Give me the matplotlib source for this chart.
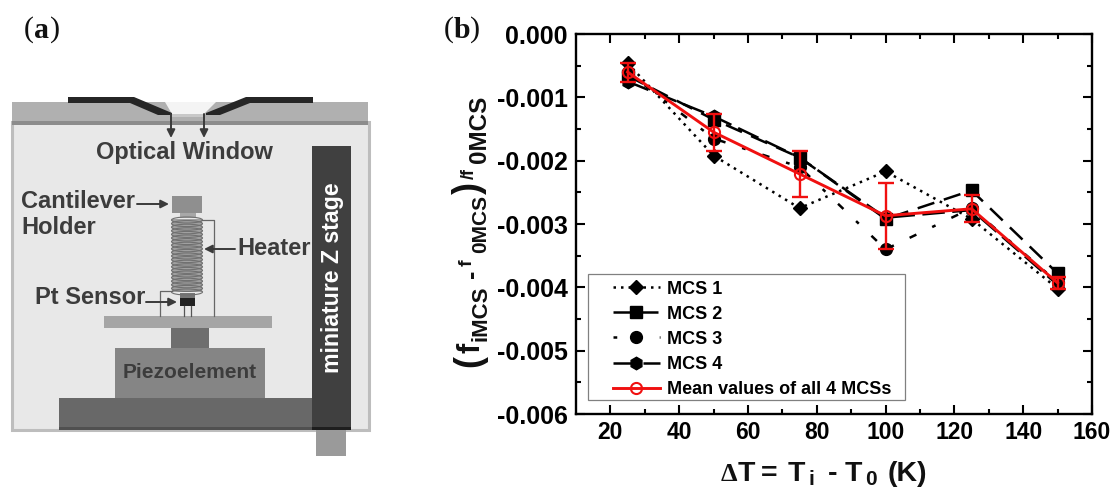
import numpy as np
import matplotlib
matplotlib.use('Agg')
import matplotlib.pyplot as plt
from matplotlib.patches import Rectangle, Polygon, Ellipse

plt.rcParams['font.family'] = ['Liberation Sans', 'DejaVu Sans']
plt.rcParams['font.weight'] = 'bold'

# values
delta_t = [25, 50, 75, 100, 125, 150]
mcs1 = [-0.00046, -0.00192, -0.00275, -0.00217, -0.00292, -0.00402]
mcs2 = [-0.00066, -0.00135, -0.00195, -0.00292, -0.00247, -0.00378]
mcs3 = [-0.00060, -0.00165, -0.00210, -0.00340, -0.00275, -0.00392]
mcs4 = [-0.00075, -0.00130, -0.00195, -0.00290, -0.00278, -0.00396]
mean_vals = [-0.00060, -0.00155, -0.00221, -0.00287, -0.00276, -0.00393]
mean_err = [0.00015, 0.00029, 0.00037, 0.00052, 0.00021, 0.00010]
labels = ['MCS 1', 'MCS 2', 'MCS 3', 'MCS 4', 'Mean values of all 4 MCSs']
x_ticks = [20, 40, 60, 80, 100, 120, 140, 160]
y_ticks = [0, -0.001, -0.002, -0.003, -0.004, -0.005, -0.006]

W, H = 1116, 491
fig = plt.figure(figsize=(W / 100, H / 100), dpi=100)

# panel (a): schematic, drawn in pixel coordinates
bg = fig.add_axes([0, 0, 1, 1])
bg.set_xlim(0, W)
bg.set_ylim(H, 0)
bg.axis('off')


def box(x0, y0, x1, y1, color, **kw):
    bg.add_patch(Rectangle((x0, y0), x1 - x0, y1 - y0, fc=color, ec=kw.pop('ec', 'none'), **kw))


def arrow(x0, y0, x1, y1):
    bg.annotate('', xy=(x1, y1), xytext=(x0, y0),
                arrowprops=dict(arrowstyle='-|>', color='#3a3a3a', lw=1.4, mutation_scale=12,
                                shrinkA=0, shrinkB=0))


txt = '#3c3c3c'
box(12, 122, 369, 430, '#e8e8e8', ec='#bdbdbd', lw=2.2)
box(12, 102, 368, 122, '#b0b0b0')
box(12, 121, 368, 125, '#8c8c8c')
bg.add_patch(Polygon([(165, 102), (216, 102), (204, 114), (172, 114)], fc='#f4f4f4', ec='none'))
box(172, 114, 204, 117, '#c8c8c8')
bg.add_patch(Polygon([(68, 97), (134, 97), (172, 113), (172, 115), (158, 115), (130, 103), (68, 103)],
                     fc='#262626', ec='none'))
bg.add_patch(Polygon([(313, 97), (246, 97), (206, 113), (206, 115), (220, 115), (250, 103), (313, 103)],
                     fc='#262626', ec='none'))
arrow(171, 114, 171, 138)
arrow(204, 114, 204, 138)
bg.text(184, 153, 'Optical Window', color=txt, fontsize=17, ha='center', va='center')

box(59, 398, 312, 430, '#686868')
box(59, 427, 312, 430, '#505050')
box(115, 348, 265, 398, '#858585')
bg.text(190, 372, 'Piezoelement', color=txt, fontsize=15, ha='center', va='center')
box(171, 328, 209, 348, '#6e6e6e')
box(104, 316, 272, 328, '#a5a5a5')
box(316, 430, 346, 456, '#9a9a9a')
box(312, 146, 351, 430, '#404040')
box(312, 427, 351, 430, '#1e1e1e')
bg.text(332, 278, 'miniature Z stage', color='white', fontsize=16.7, rotation=90, ha='center', va='center')

box(172, 196, 202, 213, '#8f8f8f')
box(180, 213, 196, 218, '#a8a8a8')
box(180, 293, 195, 298, '#777777')
box(180, 298, 195, 306, '#222222')
bg.plot([184, 184], [306, 316], color='#555555', lw=0.9)
bg.plot([191, 191], [306, 316], color='#555555', lw=0.9)
bg.plot([160, 160, 172], [316, 291, 291], color='#666666', lw=0.9)
bg.plot([214, 214, 202], [316, 220, 220], color='#666666', lw=0.9)
box(172, 219, 202, 292, '#a0a0a0')
for yc in np.arange(220, 293, 3.6):
    bg.add_patch(Ellipse((187, yc), 31, 6, fc='none', ec='#707070', lw=0.8))

bg.text(21, 201, 'Cantilever', color=txt, fontsize=17, va='center')
bg.text(21, 227, 'Holder', color=txt, fontsize=17, va='center')
arrow(137, 204, 169, 204)
bg.text(237, 248, 'Heater', color=txt, fontsize=17, va='center')
arrow(235, 249, 204, 249)
bg.text(35, 298, 'Pt Sensor', color=txt, fontsize=17, va='center')
arrow(146, 302, 177, 302)

for xp, letter in [(24, 'a'), (444, 'b')]:
    bg.text(xp, 30, '(', family='Liberation Serif', fontsize=21.5, weight='normal', va='center', color='#111111')
    bg.text(xp + 10, 30, letter, family='Liberation Serif', fontsize=21.5, weight='bold', va='center', color='#111111')
    bg.text(xp + 10 + 16, 30, ')', family='Liberation Serif', fontsize=21.5, weight='normal', va='center', color='#111111')

# axis titles, set piece by piece because the subscripts are nearly full size
for xp, yp, s, fs, fam in [(721, 481, '\u0394', 19, 'Liberation Serif'), (738, 481, 'T', 20.5, None),
                           (761, 481, '=', 20.5, None), (788, 481, 'T', 20.5, None), (808, 485, 'i', 15, None),
                           (828, 481, '-', 20.5, None), (845, 481, 'T', 20.5, None), (865, 485, '0', 15, None),
                           (888, 481, '(K)', 20.5, None)]:
    t = bg.text(xp, yp, s, fontsize=fs, va='baseline', color='#111111')
    if fam:
        t.set_family(fam)

for xp, yp, s, fs in [(479, 367, '(', 26), (479, 353, 'f', 22), (486, 341, 'iMCS', 16), (479, 278, '-', 18),
                      (472, 266, 'f', 14), (486, 253, '0MCS', 15), (479, 194, ')', 26),
                      (474, 179, '/f', 13), (486, 163, '0MCS', 17.5)]:
    bg.text(xp, yp, s, fontsize=fs, rotation=90, rotation_mode='anchor', ha='left', va='baseline', color='#111111')

# legend frame, the legend itself has no frame so the handles can sit further in
box(588, 274, 905, 400, 'white', ec='#808080', lw=0.9, zorder=5)

# panel (b)
ax = fig.add_axes([576 / W, 1 - 414 / H, (1092 - 576) / W, (414 - 34) / H])
ax.patch.set_alpha(0)
ax.plot(delta_t, mcs1, color='k', ls=(0, (1, 2)), lw=1.8, marker='D', ms=7.5, label=labels[0])
ax.plot(delta_t, mcs2, color='k', ls=(0, (7, 4)), lw=1.8, marker='s', ms=8, label=labels[1])
ax.plot(delta_t, mcs3, color='k', ls=(0, (1.5, 7, 3, 7)), lw=1.8, marker='o', ms=8.5, label=labels[2])
ax.plot(delta_t, mcs4, color='k', ls=(0, (9, 3)), lw=1.8, marker='h', ms=9, label=labels[3])
ax.errorbar(delta_t, mean_vals, yerr=mean_err, color='#f01010', lw=0, elinewidth=1.7, capsize=5.5, capthick=1.7)
ax.plot(delta_t, mean_vals, color='#f01010', lw=2.1, marker='o', ms=8, mfc='none', mew=1.5, label=labels[4])

ax.set_xlim(10, 160)
ax.set_ylim(-0.006, 0)
ax.set_xticks(x_ticks)
ax.set_xticks(np.arange(30, 160, 20), minor=True)
ax.set_yticks(y_ticks)
ax.set_yticklabels(['%.3f' % v for v in y_ticks])
ax.set_yticks(np.arange(-0.0055, 0, 0.001), minor=True)
ax.tick_params(which='major', direction='in', length=6.5, width=1.5, top=True, right=True, labelsize=16.5, pad=5)
ax.tick_params(which='minor', direction='in', length=3.5, width=1.5, top=True, right=True)
ax.tick_params(axis='y', labelsize=18, pad=6)
for s in ax.spines.values():
    s.set_linewidth(1.7)

leg = ax.legend(loc='lower left', bbox_to_anchor=(37 / 516, 16 / 380), fontsize=13, frameon=False,
                borderaxespad=0, borderpad=0, handlelength=2.6, labelspacing=0.45, handletextpad=0.4)
leg.set_zorder(6)

fig.savefig('out.png', dpi=100)
